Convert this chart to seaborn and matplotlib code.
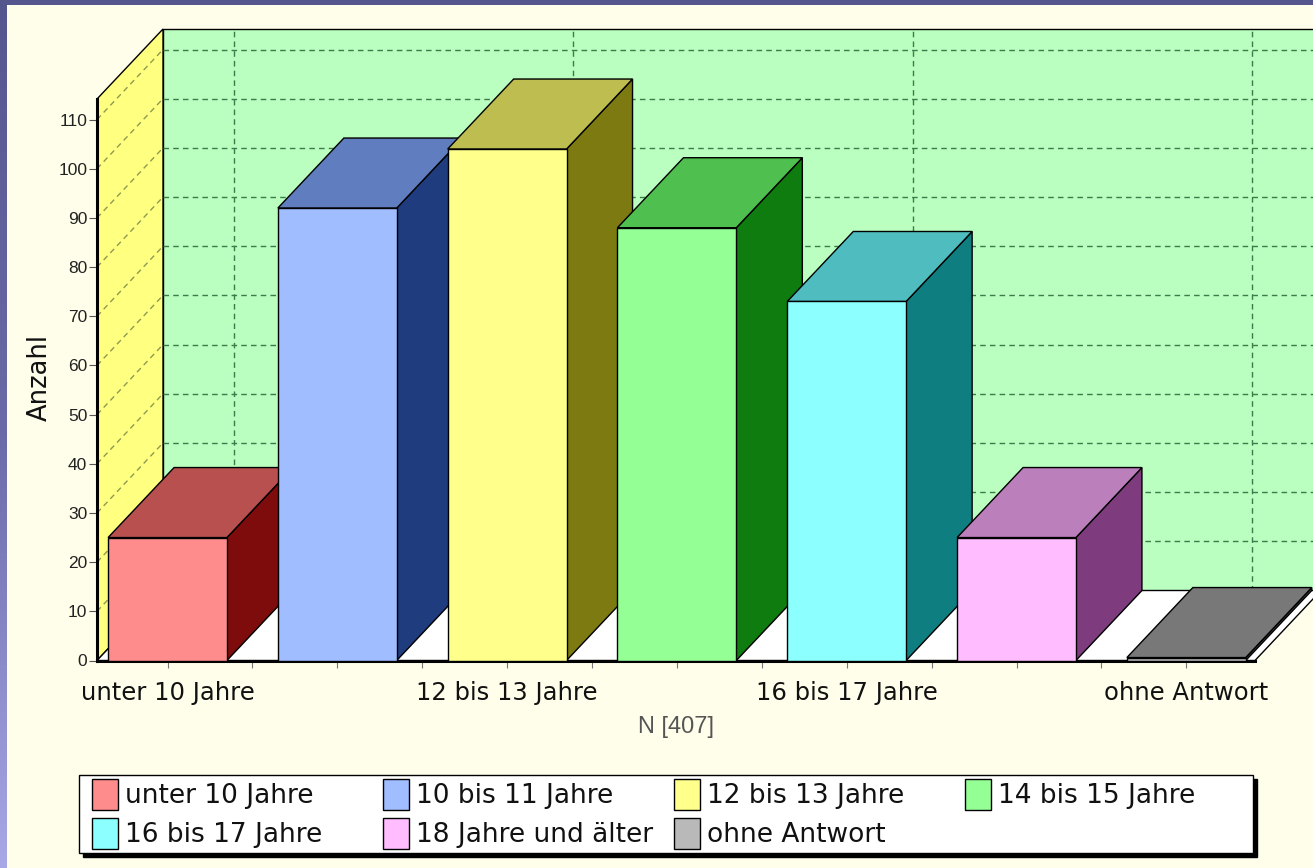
import numpy as np
import pandas as pd
import matplotlib
matplotlib.use("Agg")
import matplotlib.pyplot as plt
from matplotlib.colors import LinearSegmentedColormap
from matplotlib.legend_handler import HandlerPatch
from matplotlib.patches import Patch, Polygon, Rectangle
import seaborn as sns

categories = ["unter 10 Jahre", "10 bis 11 Jahre", "12 bis 13 Jahre", "14 bis 15 Jahre",
              "16 bis 17 Jahre", "18 Jahre und älter", "ohne Antwort"]
values = [25, 92, 104, 88, 73, 25, 0]
front_colors = ["#ff8c8c", "#a0bdff", "#ffff8c", "#94ff94", "#8cffff", "#ffbdff", "#b9b9b9"]
top_colors = ["#b85050", "#5f7dbf", "#bdbd50", "#4fbf4f", "#4fbdbf", "#bb7fbb", "#787878"]
side_colors = ["#7f0c0c", "#1e3c7e", "#7c7a10", "#0e7c0e", "#0e7e80", "#7e3c7e", "#484848"]
y_ticks = list(range(0, 111, 10))
x_major = [0, 2, 4, 6]
x_labels = ["unter 10 Jahre", "12 bis 13 Jahre", "16 bis 17 Jahre", "ohne Antwort"]
legend_order = [0, 4, 1, 5, 2, 6, 3]

W, H = 1313, 868
sns.set_theme(style="white")
plt.rcParams["font.family"] = ["DejaVu Sans"]
hand = "DejaVu Sans"
plain = "Liberation Sans"
CREAM = "#fffeea"

fig = plt.figure(figsize=(W / 100, H / 100), dpi=100)

# blue slide frame behind the chart panel
bg = fig.add_axes([0, 0, 1, 1], zorder=0)
cmap = LinearSegmentedColormap.from_list("frame", ["#56568f", "#6a6aa8", "#a8a8e6"])
bg.imshow(np.linspace(0, 1, 256)[:, None], aspect="auto", cmap=cmap)
bg.axis("off")
bg.add_patch(Rectangle((7 / W, 0), 1 - 7 / W, 1 - 5 / H, transform=fig.transFigure,
                       facecolor=CREAM, edgecolor="none"))

L, R, B, T = 97, 1255, 660.5, 99
ax = fig.add_axes([L / W, 1 - B / H, (R - L) / W, (B - T) / H], zorder=1)
ax.patch.set_alpha(0)

df = pd.DataFrame({"Kategorie": categories, "Anzahl": values})
sns.barplot(data=df, x="Kategorie", y="Anzahl", hue="Kategorie", order=categories,
            hue_order=categories, palette=front_colors, saturation=1, width=0.7,
            edgecolor="black", linewidth=1.0, legend=False, ax=ax)

unit_x = 169.8
x0 = (L - 167.5) / unit_x
x1 = (R - 167.5) / unit_x
ax.set_xlim(x0, x1)
ymax = (B - T) / 4.918
ax.set_ylim(0, ymax)
DX = 66 / unit_x
DY = 70 / 4.918
MIN_VISIBLE = 0.6

# walls and floor of the fake 3-D box
edge = dict(edgecolor="black", linewidth=1.0, clip_on=False)
ax.add_patch(Polygon([(x0 + DX, DY), (x1 + DX, DY), (x1 + DX, ymax + DY), (x0 + DX, ymax + DY)],
                     facecolor="#baffc0", zorder=1, **edge))
ax.add_patch(Polygon([(x0, 0), (x0 + DX, DY), (x0 + DX, ymax + DY), (x0, ymax)],
                     facecolor="#ffff80", zorder=1, **edge))
ax.add_patch(Polygon([(x0, 0), (x1, 0), (x1 + DX, DY), (x0 + DX, DY)],
                     facecolor="white", zorder=1, **edge))

grid = dict(color="#3f7a4a", linewidth=1.0, linestyle=(0, (4, 3)), clip_on=False, zorder=1.5)
for v in y_ticks[1:]:
    ax.plot([x0 + DX, x1 + DX], [v + DY, v + DY], **grid)
    ax.plot([x0, x0 + DX], [v, v + DY], **{**grid, "color": "#8f9a50"})
for c in x_major:
    ax.plot([c + DX, c + DX], [DY, ymax + DY], **grid)

# depth faces built from each bar that seaborn drew
bars = [p for p in ax.patches if isinstance(p, Rectangle) and p.get_width() < 1]
bars = sorted(bars, key=lambda p: p.get_x())
for i, bar in enumerate(bars):
    if bar.get_height() < MIN_VISIBLE:
        bar.set_height(MIN_VISIBLE)
    a, b, h = bar.get_x(), bar.get_x() + bar.get_width(), bar.get_height()
    z = 3 + i
    bar.set_zorder(z + 0.2)
    bar.set_clip_on(False)
    ax.add_patch(Polygon([(b, 0), (b + DX, DY), (b + DX, h + DY), (b, h)],
                         facecolor=side_colors[i], zorder=z, **edge))
    ax.add_patch(Polygon([(a, h), (b, h), (b + DX, h + DY), (a + DX, h + DY)],
                         facecolor=top_colors[i], zorder=z, **edge))

# axes furniture
ax.set_yticks(y_ticks)
ax.set_xticks(x_major)
ax.set_xticklabels(x_labels, fontfamily=hand, fontsize=17.5, color="#111111")
ax.set_xticks(np.arange(0, 6.5, 0.5), minor=True)
ax.tick_params(axis="x", which="both", bottom=True, length=5, width=0.8, color="#777777", pad=10)
ax.tick_params(axis="y", which="major", left=True, length=6, width=0.8, color="#555555", pad=1,
               labelsize=12.5)
for t in ax.get_yticklabels():
    t.set_fontfamily(plain)
    t.set_color("#222222")
ax.set_xlabel("N [407]", fontfamily=plain, fontsize=17, color="#555555", labelpad=8)
ax.set_ylabel("Anzahl", fontfamily=hand, fontsize=18.5, color="#111111", labelpad=4, y=0.504)
for s in ("top", "right"):
    ax.spines[s].set_visible(False)
ax.spines["left"].set_linewidth(2.2)
ax.spines["bottom"].set_linewidth(2.2)
ax.spines["left"].set_color("black")
ax.spines["bottom"].set_color("black")


def swatch(legend, orig_handle, xdescent, ydescent, width, height, fontsize):
    return Rectangle((width - 18.7, -ydescent), 18.7, height)


handles = [Patch(facecolor=front_colors[i], edgecolor="black", linewidth=1.0) for i in legend_order]
labels = [categories[i] for i in legend_order]
lx, ly, lw, lh = 79, 775, 1174, 82
leg = fig.legend(handles, labels, ncol=4, mode="expand", loc="upper left",
                 bbox_to_anchor=(lx / W, 1 - (ly + lh) / H, lw / W, lh / H), borderaxespad=0,
                 prop={"family": hand, "size": 19}, labelcolor="#111111",
                 frameon=True, fancybox=False, framealpha=1, facecolor="white",
                 edgecolor="black", borderpad=0.15, handlelength=1.33, handleheight=1.44,
                 handletextpad=0.25, labelspacing=0.3, columnspacing=0.46, alignment="left",
                 handler_map={Patch: HandlerPatch(patch_func=swatch)},
                 shadow={"ox": 3, "oy": -3, "facecolor": "black", "edgecolor": "black", "alpha": 1})
leg._legend_handle_box.mode = "equal"
leg.get_frame().set_linewidth(1.0)

fig.savefig("out.png", dpi=100)
